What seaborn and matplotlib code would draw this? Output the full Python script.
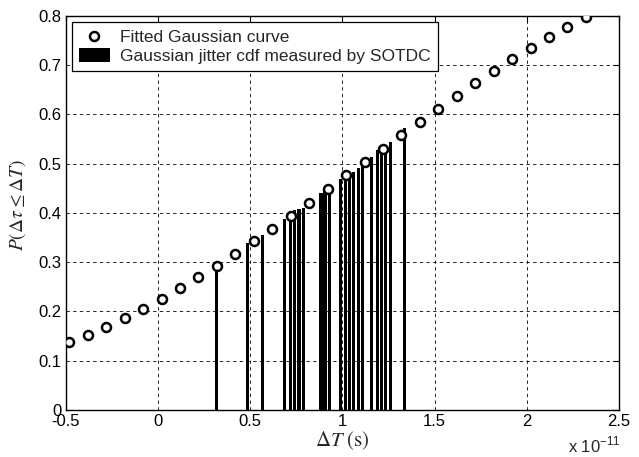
import seaborn as sns
import pandas as pd
import matplotlib.pyplot as plt

# Fitted Gaussian cdf (x in units of 1e-11 s)
fit_dt = [-0.48, -0.38, -0.28, -0.18, -0.08, 0.02, 0.12, 0.22, 0.32, 0.42,
          0.52, 0.62, 0.72, 0.82, 0.92, 1.02, 1.12, 1.22, 1.32, 1.42,
          1.52, 1.62, 1.72, 1.82, 1.92, 2.02, 2.12, 2.22, 2.32]
fit_p = [0.137, 0.152, 0.168, 0.187, 0.205, 0.225, 0.247, 0.270, 0.293, 0.317,
         0.342, 0.367, 0.394, 0.421, 0.448, 0.476, 0.504, 0.530, 0.558, 0.584,
         0.611, 0.638, 0.663, 0.688, 0.712, 0.734, 0.757, 0.778, 0.798]

# Measured cdf by SOTDC
meas_dt = [0.317, 0.486, 0.567, 0.687, 0.720, 0.739, 0.765, 0.789, 0.884, 0.906,
           0.928, 0.989, 1.016, 1.039, 1.061, 1.087, 1.107, 1.156, 1.190, 1.213,
           1.232, 1.261, 1.337]
meas_p = [0.293, 0.338, 0.356, 0.387, 0.394, 0.406, 0.408, 0.409, 0.441, 0.448,
          0.453, 0.469, 0.477, 0.480, 0.482, 0.492, 0.500, 0.514, 0.527, 0.533,
          0.536, 0.543, 0.573]

df_fit = pd.DataFrame({"dt": fit_dt, "p": fit_p})

sns.set_style("white")
plt.rcParams['font.family'] = ['Liberation Sans', 'DejaVu Sans']
plt.rcParams['mathtext.fontset'] = 'stix'

fig = plt.figure(figsize=(6.39, 4.57), dpi=100)
ax = fig.add_axes([0.1028, 0.1028, 0.866, 0.8628])

ax.bar(meas_dt, meas_p, width=0.017, color='black', linewidth=0,
       label='Gaussian jitter cdf measured by SOTDC', zorder=2)
sns.scatterplot(data=df_fit, x="dt", y="p", ax=ax, marker='o', s=42,
                facecolor='white', edgecolor='black', linewidth=1.8,
                label='Fitted Gaussian curve', zorder=3)

ax.set_xlim(-0.5, 2.5)
ax.set_ylim(0, 0.8)
ax.set_xticks([-0.5, 0, 0.5, 1, 1.5, 2, 2.5])
ax.set_xticklabels(['-0.5', '0', '0.5', '1', '1.5', '2', '2.5'])
ax.set_yticks([0, 0.1, 0.2, 0.3, 0.4, 0.5, 0.6, 0.7, 0.8])
ax.set_yticklabels(['0', '0.1', '0.2', '0.3', '0.4', '0.5', '0.6', '0.7', '0.8'])
ax.tick_params(direction='in', length=4, width=0.8, labelsize=12,
               top=True, right=True, colors='black', pad=3)
ax.grid(True, color='black', linestyle=(0, (4, 4)), linewidth=0.6, zorder=0)
ax.set_axisbelow(True)
for s in ax.spines.values():
    s.set_color('black')
    s.set_linewidth(1.0)

ax.set_xlabel(r'$\Delta T\ \mathrm{(s)}$', fontsize=15, labelpad=0)
ax.set_ylabel(r'$P(\Delta\tau \leq \Delta T)$', fontsize=14)
ax.yaxis.set_label_coords(-0.068, 0.52)
fig.text(568 / 639, 1 - 452 / 457, r'x 10$^{\mathregular{-11}}$',
         fontsize=12, ha='left', va='baseline')

handles, labels = ax.get_legend_handles_labels()
order = [labels.index('Fitted Gaussian curve'),
         labels.index('Gaussian jitter cdf measured by SOTDC')]
leg = ax.legend([handles[i] for i in order], [labels[i] for i in order],
                loc='upper left', bbox_to_anchor=(0.0, 1.0), fontsize=12.5,
                frameon=True, fancybox=False, edgecolor='black',
                borderaxespad=0.35, handlelength=1.8, handleheight=0.85,
                handletextpad=0.6, borderpad=0.4, labelspacing=0.2)
leg.get_frame().set_linewidth(0.9)
leg.get_frame().set_alpha(1)

fig.savefig('out.png', dpi=100)
